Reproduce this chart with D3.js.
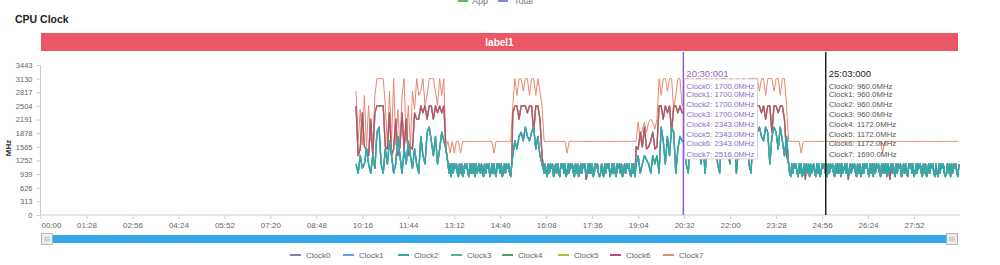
<!DOCTYPE html>
<html><head><meta charset="utf-8">
<script src="https://cdn.jsdelivr.net/npm/d3@7"></script>
<style>
html,body{margin:0;padding:0;background:#fff;}
svg{display:block;font-family:"Liberation Sans",Arial,sans-serif;}
</style></head><body>
<svg id="chart" width="1000" height="265"></svg>
<script>
// ---------------- data ----------------
const seriesNames = ["Clock0","Clock1","Clock2","Clock3","Clock4","Clock5","Clock6","Clock7"];
const seriesColors = ["#8e7cc3","#6c9ae0","#33a8a8","#5bb08a","#4e9f5e","#a2c83a","#bf4b7d","#ea8670"];
const clusterOfSeries = [0,0,0,0,1,1,1,2];
const drawOrder = [7,4,5,6,0,1,3,2];

// frequency levels (MHz) used by the code strings below
const freqLevels = {a:960,b:1075,c:1172,d:1363,e:1516,f:1700,g:1804,h:1900,i:2016,j:2131,k:2343,l:2504,
  m:2745,n:2841,o:3130,p:1690,q:1420,r:1267,s:1565,t:2200,u:2419,v:2516,w:1970,x:1610,y:883,z:820};

// segment boundaries in seconds; each segment's samples are spread evenly over it
const segmentBounds = [604,780,904,964,1140,1184,1432,1760];

const littleClusterCodes = [
  "cadbcecadbhicaecfdacgdaecfdbecagdchifdgcehfe",
  "cacycacbcaycacyacbcaycacacycabcacaycacbcyacacaycbcacyacacbcayc",
  "dfeghfigfhiegdc",
  "acaycacbcyacacaycbcacyacacbcaycacyacacbcayca"+"cacyacbcayacaycacbcyacacaycbcacyacacbcaycacy",
  "cdacdrcadcd",
  "aifcgdihaeg"+"ff"+"caigdhicfaegidhcaifgdcihaegfdicahg"+"higfihcgiheifdg",
  "caycacbcaycacyacacacycabcaycacyacbc"+"aa"+
  "ycacbcaycacacycabcacyacacbcaycacyacacbcaycacycacbcaycacacycabc"+
  "acaycacbcyacacaycbcacyacacbcaycacyacacbcaycaycacbcayacacycacbcayc"
];
const midClusterCodes = [
  "ldeksedtdkllllsekdetdsketdsekttlkltlltlklkle",
  "cacycacbcaycacyacbcaycacacycabcacaycacbcyacacaycbcacyacacbcayc",
  "klltlllkllhlltd",
  "acaycacbcyacacaycbcacyacacbcaycacyacacbczyca"+"cacyacbcayacaycacbcyacacaycbcacyacacbcaycacy",
  "sehsiesfhes",
  "lltlklhllkl"+"kk"+"llhlltllklsllltlklllhlltllkllltlll"+"llkltllhllklltd",
  "caycacbcaycacyaczcacycabcaycacyacbc"+"cc"+
  "ycacbcaycacacycabcaczacacbcaycacyacacbcaycacycacbcaycacacycazc"+
  "acaycacbcyacacaycbcacyacacbcaycacyacacbcaycaycacbcayacacycacbcayc"
];
const bigClusterCodes = [
  "npuxmsvpxmoooovsnpoxusmopvsnuomnovmooonvomos",
  "pqpqppqpppppppppppppppqpppppppp",
  "vomoonoomoomonv",
  "pppppppppppqpppppppppppppppppppppppppppppppp",
  "pjpwjhjtjwt",
  "omoonooumoo"+"vv"+"oonomooovoomonoouooomoonoovoomoooo"+"onoomooonoomoov",
  "ppppppqpppppppppp"+"pp"+"pppppppppppppppppppppppppp"+"q"+"pppppppppppppppppppppppppppppppppppp"
];

const yTicks = [0,313,626,939,1252,1565,1878,2191,2504,2817,3130,3443];
const xTickSeconds = [0,88,176,264,352,440,528,616,704,792,880,968,1056,1144,1232,1320,1408,1496,1584,1672];
const xDomain = [0,1760];
const yDomain = [0,3443];

const cursorLabels = ["20:30:001","25:03:000"];
const cursorSeconds = [1230.5,1503];
const cursorValues = [
  [1700,1700,1700,1700,2343,2343,2343,2516],
  [960,960,960,960,1172,1172,1172,1690]
];
const topLegendNames = ["App","Total"];
const topLegendColors = ["#5cb85c","#7b8ad6"];
const bandLabel = "label1";
const chartTitle = "CPU Clock";
const yAxisName = "MHz";

// ---------------- build ----------------
function decode(segs){
  const pts=[];
  segs.forEach((s,k)=>{
    const t0=segmentBounds[k], t1=segmentBounds[k+1], n=s.length;
    for(let j=0;j<n;j++) pts.push({t:t0+j*(t1-t0)/n, v:freqLevels[s[j]]});
  });
  return pts;
}
const clusters=[decode(littleClusterCodes),decode(midClusterCodes),decode(bigClusterCodes)];

const svg=d3.select("#chart");
const L=40.5,R=960,T=65,B=215;
const x=d3.scaleLinear().domain(xDomain).range([L,R]);
const y=d3.scaleLinear().domain(yDomain).range([B,T]);
const fmt=s=>{const m=Math.floor(s/60),ss=Math.round(s%60);return String(m).padStart(2,"0")+":"+String(ss).padStart(2,"0");};

// title
svg.append("text").attr("x",15).attr("y",22.5).attr("font-size",10.5).attr("font-weight","bold").attr("fill","#222").text(chartTitle);

// top legend (partly cut off, as in the reference)
const tl=[{lx:458,tx:472},{lx:498,tx:514}];
topLegendNames.forEach((n,i)=>{
  svg.append("line").attr("x1",tl[i].lx).attr("x2",tl[i].lx+10).attr("y1",1).attr("y2",1).attr("stroke",topLegendColors[i]).attr("stroke-width",2);
  svg.append("text").attr("x",tl[i].tx).attr("y",4).attr("font-size",9).attr("fill","#777").text(n);
});

// label band
svg.append("rect").attr("x",41).attr("y",33).attr("width",917).attr("height",18).attr("fill","#ec5766");
svg.append("text").attr("x",499.5).attr("y",45.5).attr("text-anchor","middle").attr("font-size",10).attr("font-weight","bold").attr("fill","#fff").text(bandLabel);

// axes
const yAx=svg.append("g").attr("transform",`translate(${L},0)`)
  .call(d3.axisLeft(y).tickValues(yTicks).tickFormat(d3.format("d")).tickSize(4).tickPadding(4));
const xAx=svg.append("g").attr("transform",`translate(0,${B})`)
  .call(d3.axisBottom(x).tickValues(xTickSeconds).tickFormat(fmt).tickSize(4).tickPadding(3));
[yAx,xAx].forEach(g=>{
  g.select(".domain").attr("stroke","#ccc");
  g.selectAll(".tick line").attr("stroke","#ccc");
  g.selectAll(".tick text").attr("fill","#666").attr("font-size",7.5).attr("font-family","Liberation Sans,Arial,sans-serif");
});
xAx.select(".domain").attr("d",`M${L},0H${R}`);
yAx.select(".domain").attr("d",`M0,${T}V${B}`);
xAx.selectAll(".tick text").attr("font-size",8);
xAx.selectAll(".tick text").filter((d,i)=>i===0).attr("dx",10.5);

svg.append("text").attr("transform","translate(10.5,148) rotate(-90)").attr("text-anchor","middle")
  .attr("font-size",8).attr("font-weight","bold").attr("fill","#333").text(yAxisName);

// series lines
svg.append("clipPath").attr("id","clip").append("rect").attr("x",L).attr("y",T-5).attr("width",R-L).attr("height",B-T+5);
const line=d3.line().x(d=>x(d.t)).y(d=>y(d.v));
const lg=svg.append("g").attr("clip-path","url(#clip)");
drawOrder.forEach(si=>{
  const c=clusterOfSeries[si];
  lg.append("path").datum(clusters[c])
    .attr("d",line).attr("fill","none").attr("stroke",seriesColors[si])
    .attr("stroke-width",c===2?1:1.3).attr("stroke-linejoin","round");
});

// cursors
const rowY=[88.5,97,107,117,127,136.5,146,156.5];
const cur=[{c:"#8f5bd8",txt:"#8a6cc8",head:"#8a6cc8",box:true},{c:"#222",txt:"#555",head:"#222",box:false}];
cursorSeconds.forEach((s,k)=>{
  const cx=x(s);
  if(cur[k].box){
    svg.append("rect").attr("x",cx+1).attr("y",79).attr("width",73).attr("height",80).attr("fill","#fff").attr("stroke","#ccc").attr("stroke-width",0.8);
  }
  svg.append("line").attr("x1",cx).attr("x2",cx).attr("y1",52).attr("y2",B).attr("stroke",cur[k].c).attr("stroke-width",1.5);
  svg.append("text").attr("x",cx+3).attr("y",77).attr("font-size",9.5).attr("fill",cur[k].head).text(cursorLabels[k]);
  seriesNames.forEach((n,i)=>{
    svg.append("text").attr("x",cx+3).attr("y",rowY[i]).attr("font-size",7.8).attr("fill",cur[k].txt)
      .text(`${n}: ${cursorValues[k][i].toFixed(1)}MHz`);
  });
});

// slider
svg.append("rect").attr("x",41).attr("y",235).attr("width",917).attr("height",8).attr("fill","#33a9ea");
[41,946].forEach(hx=>{
  svg.append("rect").attr("x",hx+0.5).attr("y",233.5).attr("width",11).attr("height",11).attr("fill","#eee").attr("stroke","#aaa").attr("stroke-width",0.8);
  [-2,0,2].forEach(o=>svg.append("line").attr("x1",hx+6+o).attr("x2",hx+6+o).attr("y1",236.5).attr("y2",241.5).attr("stroke","#999").attr("stroke-width",0.6));
});

// bottom legend
const legX=[290,343,398,451,502,558,610,663];
seriesNames.forEach((n,i)=>{
  svg.append("line").attr("x1",legX[i]).attr("x2",legX[i]+11).attr("y1",255).attr("y2",255).attr("stroke",seriesColors[i]).attr("stroke-width",2);
  svg.append("text").attr("x",legX[i]+16).attr("y",258).attr("font-size",8).attr("fill","#666").text(n);
});
</script>
</body></html>
